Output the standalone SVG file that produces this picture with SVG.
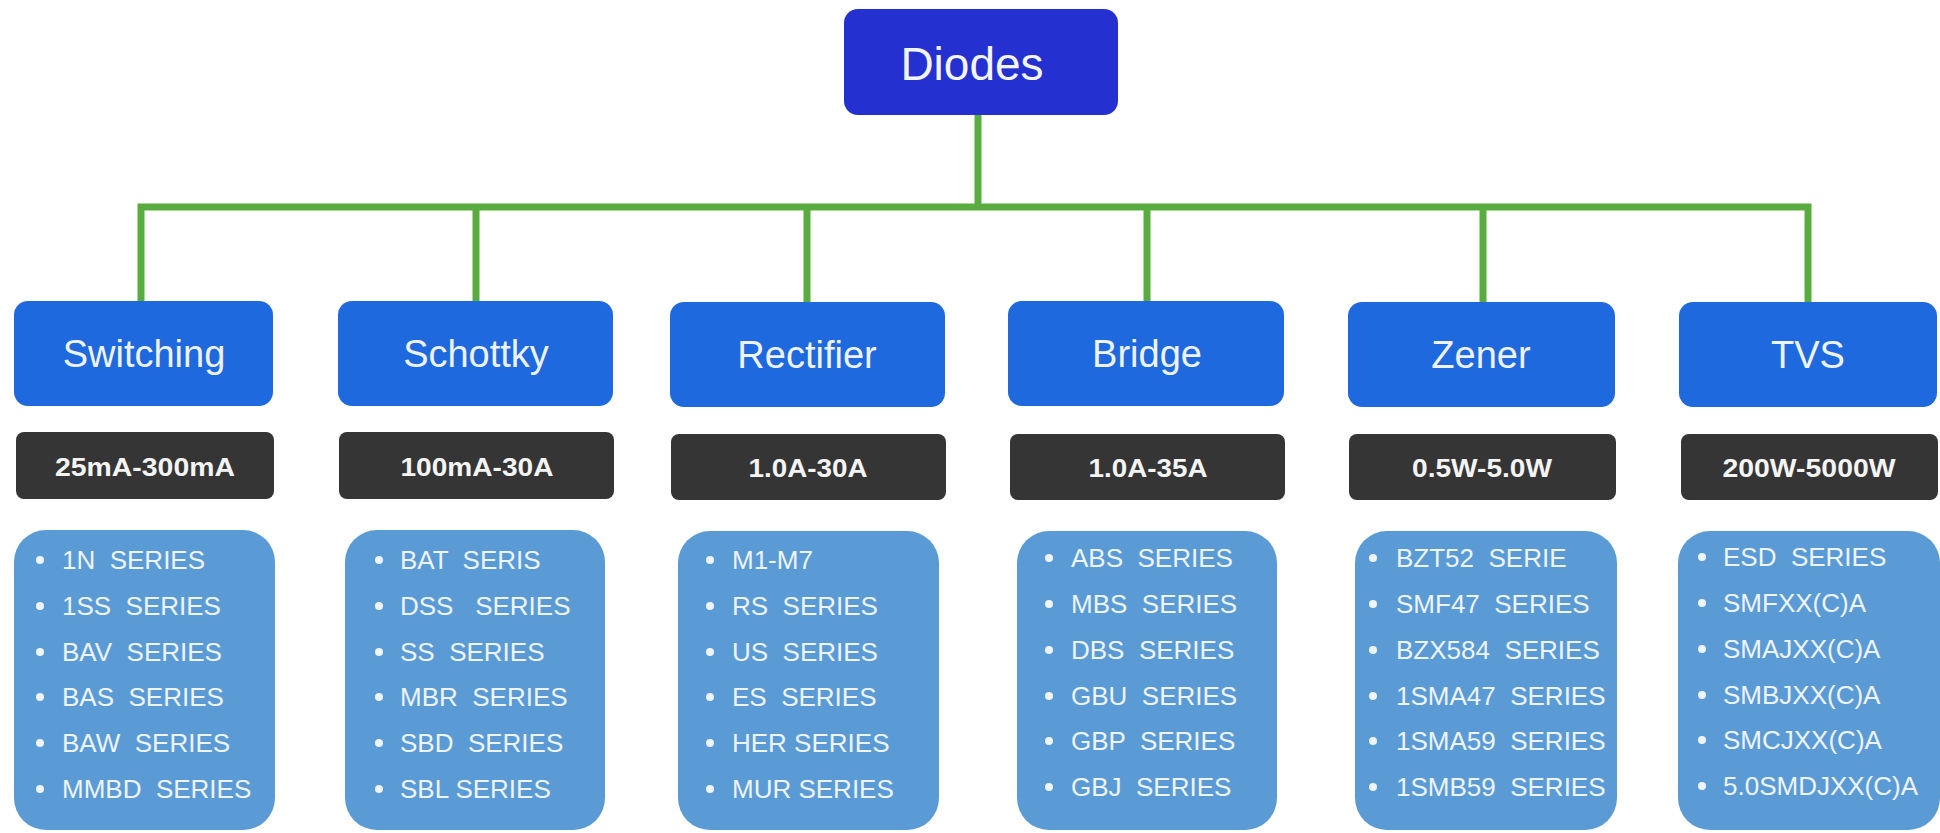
<svg xmlns="http://www.w3.org/2000/svg" width="1940" height="833" viewBox="0 0 1940 833">
<style>
.root{fill:#2430d0}
.cat{fill:#1f69de}
.rng{fill:#353535}
.lst{fill:#5b9bd5}
.t-root{font-family:"Liberation Sans",Arial,sans-serif;font-size:46px;fill:#f2f4ff;text-anchor:middle}
.t-cat{font-family:"Liberation Sans",Arial,sans-serif;font-size:38px;fill:#eef3fb;text-anchor:middle}
.t-rng{font-family:"Liberation Sans",Arial,sans-serif;font-size:25px;font-weight:bold;fill:#f4f4f4;text-anchor:middle}
.t-lst{font-family:"Liberation Sans",Arial,sans-serif;font-size:26px;fill:#eef4fb;white-space:pre}
.dot{fill:#eef4fb}
.wire{stroke:#58ad3e;stroke-width:7;fill:none;stroke-linecap:square}
</style>
<rect width="1940" height="833" fill="#ffffff"/>
<g id="connectors">
<path class="wire" d="M978 115V207M141 207H1808M141 207V301M476 207V301M807 207V302M1147 207V301M1483 207V302M1808 207V302"/>
</g>
<g id="diodes">
<rect class="root" x="844" y="9" width="274" height="106" rx="14"/>
<text class="t-root" x="972" y="80">Diodes</text>
</g>
<g id="switching">
<rect class="cat" x="14" y="301" width="259" height="105" rx="14"/>
<text class="t-cat" x="144" y="367">Switching</text>
<rect class="rng" x="16" y="432" width="258" height="67" rx="8"/>
<text class="t-rng" x="145" y="476" textLength="180" lengthAdjust="spacingAndGlyphs">25mA-300mA</text>
<rect class="lst" x="14" y="530" width="261" height="300" rx="32"/>
<g xml:space="preserve">
<circle class="dot" cx="40" cy="560" r="4"/><text class="t-lst" x="62" y="569">1N  SERIES</text>
<circle class="dot" cx="40" cy="606" r="4"/><text class="t-lst" x="62" y="615">1SS  SERIES</text>
<circle class="dot" cx="40" cy="652" r="4"/><text class="t-lst" x="62" y="661">BAV  SERIES</text>
<circle class="dot" cx="40" cy="697" r="4"/><text class="t-lst" x="62" y="706">BAS  SERIES</text>
<circle class="dot" cx="40" cy="743" r="4"/><text class="t-lst" x="62" y="752">BAW  SERIES</text>
<circle class="dot" cx="40" cy="789" r="4"/><text class="t-lst" x="62" y="798">MMBD  SERIES</text>
</g>
</g>
<g id="schottky">
<rect class="cat" x="338" y="301" width="275" height="105" rx="14"/>
<text class="t-cat" x="476" y="367">Schottky</text>
<rect class="rng" x="339" y="432" width="275" height="67" rx="8"/>
<text class="t-rng" x="477" y="476" textLength="153" lengthAdjust="spacingAndGlyphs">100mA-30A</text>
<rect class="lst" x="345" y="530" width="260" height="300" rx="32"/>
<g xml:space="preserve">
<circle class="dot" cx="379" cy="560" r="4"/><text class="t-lst" x="400" y="569">BAT  SERIS</text>
<circle class="dot" cx="379" cy="606" r="4"/><text class="t-lst" x="400" y="615">DSS   SERIES</text>
<circle class="dot" cx="379" cy="652" r="4"/><text class="t-lst" x="400" y="661">SS  SERIES</text>
<circle class="dot" cx="379" cy="697" r="4"/><text class="t-lst" x="400" y="706">MBR  SERIES</text>
<circle class="dot" cx="379" cy="743" r="4"/><text class="t-lst" x="400" y="752">SBD  SERIES</text>
<circle class="dot" cx="379" cy="789" r="4"/><text class="t-lst" x="400" y="798">SBL SERIES</text>
</g>
</g>
<g id="rectifier">
<rect class="cat" x="670" y="302" width="275" height="105" rx="14"/>
<text class="t-cat" x="807" y="368">Rectifier</text>
<rect class="rng" x="671" y="434" width="275" height="66" rx="8"/>
<text class="t-rng" x="808" y="477" textLength="119" lengthAdjust="spacingAndGlyphs">1.0A-30A</text>
<rect class="lst" x="678" y="531" width="261" height="299" rx="32"/>
<g xml:space="preserve">
<circle class="dot" cx="710" cy="560" r="4"/><text class="t-lst" x="732" y="569">M1-M7</text>
<circle class="dot" cx="710" cy="606" r="4"/><text class="t-lst" x="732" y="615">RS  SERIES</text>
<circle class="dot" cx="710" cy="652" r="4"/><text class="t-lst" x="732" y="661">US  SERIES</text>
<circle class="dot" cx="710" cy="697" r="4"/><text class="t-lst" x="732" y="706">ES  SERIES</text>
<circle class="dot" cx="710" cy="743" r="4"/><text class="t-lst" x="732" y="752">HER SERIES</text>
<circle class="dot" cx="710" cy="789" r="4"/><text class="t-lst" x="732" y="798">MUR SERIES</text>
</g>
</g>
<g id="bridge">
<rect class="cat" x="1008" y="301" width="276" height="105" rx="14"/>
<text class="t-cat" x="1147" y="367">Bridge</text>
<rect class="rng" x="1010" y="434" width="275" height="66" rx="8"/>
<text class="t-rng" x="1148" y="477" textLength="119" lengthAdjust="spacingAndGlyphs">1.0A-35A</text>
<rect class="lst" x="1017" y="531" width="260" height="299" rx="32"/>
<g xml:space="preserve">
<circle class="dot" cx="1049" cy="558" r="4"/><text class="t-lst" x="1071" y="567">ABS  SERIES</text>
<circle class="dot" cx="1049" cy="604" r="4"/><text class="t-lst" x="1071" y="613">MBS  SERIES</text>
<circle class="dot" cx="1049" cy="650" r="4"/><text class="t-lst" x="1071" y="659">DBS  SERIES</text>
<circle class="dot" cx="1049" cy="696" r="4"/><text class="t-lst" x="1071" y="705">GBU  SERIES</text>
<circle class="dot" cx="1049" cy="741" r="4"/><text class="t-lst" x="1071" y="750">GBP  SERIES</text>
<circle class="dot" cx="1049" cy="787" r="4"/><text class="t-lst" x="1071" y="796">GBJ  SERIES</text>
</g>
</g>
<g id="zener">
<rect class="cat" x="1348" y="302" width="267" height="105" rx="14"/>
<text class="t-cat" x="1481" y="368">Zener</text>
<rect class="rng" x="1349" y="434" width="267" height="66" rx="8"/>
<text class="t-rng" x="1482" y="477" textLength="140" lengthAdjust="spacingAndGlyphs">0.5W-5.0W</text>
<rect class="lst" x="1355" y="531" width="262" height="299" rx="32"/>
<g xml:space="preserve">
<circle class="dot" cx="1373" cy="558" r="4"/><text class="t-lst" x="1396" y="567">BZT52  SERIE</text>
<circle class="dot" cx="1373" cy="604" r="4"/><text class="t-lst" x="1396" y="613">SMF47  SERIES</text>
<circle class="dot" cx="1373" cy="650" r="4"/><text class="t-lst" x="1396" y="659">BZX584  SERIES</text>
<circle class="dot" cx="1373" cy="696" r="4"/><text class="t-lst" x="1396" y="705">1SMA47  SERIES</text>
<circle class="dot" cx="1373" cy="741" r="4"/><text class="t-lst" x="1396" y="750">1SMA59  SERIES</text>
<circle class="dot" cx="1373" cy="787" r="4"/><text class="t-lst" x="1396" y="796">1SMB59  SERIES</text>
</g>
</g>
<g id="tvs">
<rect class="cat" x="1679" y="302" width="258" height="105" rx="14"/>
<text class="t-cat" x="1808" y="368">TVS</text>
<rect class="rng" x="1681" y="434" width="257" height="66" rx="8"/>
<text class="t-rng" x="1809" y="477" textLength="173" lengthAdjust="spacingAndGlyphs">200W-5000W</text>
<rect class="lst" x="1678" y="531" width="262" height="299" rx="32"/>
<g xml:space="preserve">
<circle class="dot" cx="1702" cy="557" r="4"/><text class="t-lst" x="1723" y="566">ESD  SERIES</text>
<circle class="dot" cx="1702" cy="603" r="4"/><text class="t-lst" x="1723" y="612">SMFXX(C)A</text>
<circle class="dot" cx="1702" cy="649" r="4"/><text class="t-lst" x="1723" y="658">SMAJXX(C)A</text>
<circle class="dot" cx="1702" cy="695" r="4"/><text class="t-lst" x="1723" y="704">SMBJXX(C)A</text>
<circle class="dot" cx="1702" cy="740" r="4"/><text class="t-lst" x="1723" y="749">SMCJXX(C)A</text>
<circle class="dot" cx="1702" cy="786" r="4"/><text class="t-lst" x="1723" y="795">5.0SMDJXX(C)A</text>
</g>
</g>
</svg>
